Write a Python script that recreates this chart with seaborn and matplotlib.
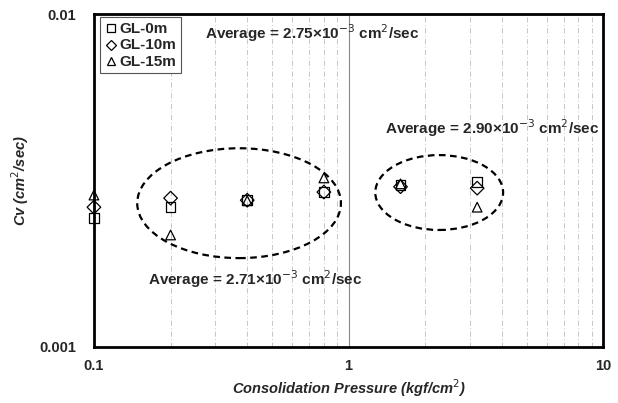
from matplotlib import pyplot as plt
from matplotlib.patches import Ellipse
import seaborn as sns
import pandas as pd

# consolidation pressure (kgf/cm2) and Cv (cm2/sec)
pressure = [0.1, 0.2, 0.4, 0.8, 1.6, 3.2]
cv_gl0 = [0.00244, 0.00263, 0.00277, 0.00292, 0.00306, 0.00313]
cv_gl10 = [0.00263, 0.00280, 0.00276, 0.00292, 0.00303, 0.00300]
cv_gl15 = [0.00286, 0.00217, 0.00275, 0.00322, 0.00309, 0.00263]
series = ["GL-0m", "GL-10m", "GL-15m"]
averages = ["2.75", "2.90", "2.71"]


def main():
    df = pd.DataFrame({
        "p": pressure * 3,
        "cv": cv_gl0 + cv_gl10 + cv_gl15,
        "depth": [s for s in series for _ in pressure],
    })

    sns.set_style("white")
    plt.rcParams["font.family"] = ["Liberation Sans", "DejaVu Sans"]

    fig = plt.figure(figsize=(6.18, 4.03), dpi=100)
    ax = fig.add_axes([0.152, 0.139, 0.824, 0.826])

    sns.scatterplot(
        data=df, x="p", y="cv", style="depth", markers=["s", "D", "^"],
        color="black", facecolor="none", edgecolor="black", linewidth=0.9,
        s=48, ax=ax, zorder=3,
    )
    for coll in ax.collections:
        coll.set_clip_on(False)

    ax.set_xscale("log")
    ax.set_yscale("log")
    ax.set_xlim(0.1, 10)
    ax.set_ylim(0.001, 0.01)
    ax.set_xticks([0.1, 1, 10], ["0.1", "1", "10"])
    ax.set_yticks([0.001, 0.01], ["0.001", "0.01"])
    ax.yaxis.set_minor_locator(plt.NullLocator())
    ax.tick_params(which="both", length=0, labelsize=10.5)
    ax.tick_params(axis="x", pad=9)
    ax.tick_params(axis="y", pad=13)
    for lab in ax.get_xticklabels() + ax.get_yticklabels():
        lab.set_fontweight("bold")

    ax.grid(False)
    ax.grid(axis="x", which="minor", color="#bbbbbb", linestyle=(0, (6, 3, 1, 3)),
            linewidth=0.6)
    ax.grid(axis="x", which="major", color="#888888", linestyle="-",
            linewidth=0.8)
    for sp in ax.spines.values():
        sp.set_linewidth(2)
        sp.set_color("black")

    ax.set_xlabel("Consolidation Pressure (kgf/cm$^2$)", fontsize=10.5,
                  fontweight="bold", fontstyle="italic", labelpad=3)
    ax.set_ylabel("Cv (cm$^2$/sec)", fontsize=10.5, fontweight="bold",
                  fontstyle="italic", labelpad=6)

    ax.add_patch(Ellipse((0.285, 0.432), 0.40, 0.33, transform=ax.transAxes,
                         fill=False, linestyle=(0, (3, 2)), linewidth=1.6,
                         edgecolor="black"))
    ax.add_patch(Ellipse((0.678, 0.464), 0.251, 0.225, transform=ax.transAxes,
                         fill=False, linestyle=(0, (3, 2)), linewidth=1.6,
                         edgecolor="black"))

    txt = "Average = {}\u00d710$^{{-3}}$ cm$^2$/sec"
    kw = dict(transform=ax.transAxes, fontsize=11, fontweight="bold",
              va="center", ha="left")
    ax.text(0.218, 0.944, txt.format(averages[0]), **kw)
    ax.text(0.572, 0.658, txt.format(averages[1]), **kw)
    ax.text(0.106, 0.204, txt.format(averages[2]), **kw)

    leg = ax.legend(loc="upper left", bbox_to_anchor=(0.012, 0.99),
                    fancybox=False, edgecolor="#555555", framealpha=1,
                    handletextpad=0.1, borderpad=0.3, labelspacing=0.2,
                    handlelength=1.0, borderaxespad=0, markerscale=0.8)
    leg.get_frame().set_linewidth(0.8)
    for t in leg.get_texts():
        t.set_fontweight("bold")
        t.set_fontsize(11)

    plt.savefig("out.png", dpi=100)


if __name__ == "__main__":
    main()
